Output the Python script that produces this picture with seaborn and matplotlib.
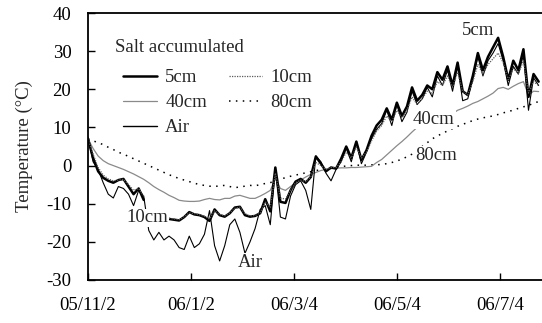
import matplotlib
matplotlib.use("Agg")
import matplotlib.pyplot as plt
from matplotlib.lines import Line2D
import numpy as np
import pandas as pd
import seaborn as sns

sns.set_style("ticks")
plt.rcParams["font.family"] = ["Liberation Serif", "DejaVu Serif"]
plt.rcParams["axes.unicode_minus"] = False

# Soil and air temperature, salt accumulated plot, sampled every 3 days from 2005-11-02
start_date = "2005-11-02"
step_days = 3

t_5cm = [7.0, 2.0, -1.5, -3.2, -4.0, -4.5, -3.8, -3.5, -5.5, -7.5,
         -6.0, -9.0, np.nan, np.nan, np.nan, np.nan, -14.0, -14.2, -14.4, -13.5,
         -12.2, -12.8, -13.0, -13.5, -14.5, -11.5, -13.0, -13.4, -12.5, -11.0,
         -10.8, -13.0, -13.4, -13.2, -12.5, -8.8, -12.0, -0.5, -9.5, -9.8,
         -6.5, -4.2, -3.5, -4.5, -3.0, 2.4, 0.5, -1.5, -0.5, -0.8,
         1.8, 5.0, 2.0, 6.3, 1.5, 4.0, 7.8, 10.5, 12.0, 15.0,
         12.0, 16.5, 13.0, 15.5, 20.5, 17.0, 18.5, 21.0, 20.0, 24.5,
         22.5, 26.0, 21.0, 27.0, 19.5, 18.5, 23.5, 29.5, 25.0, 28.5,
         31.0, 33.5, 28.5, 22.5, 27.5, 25.0, 30.5, 18.0, 24.0, 22.0]

t_10cm = [7.0, 3.0, -0.5, -2.5, -3.5, -4.0, -3.8, -3.6, -5.0, -6.5,
          -6.0, -8.0, np.nan, np.nan, np.nan, np.nan, -13.8, -14.0, -14.2, -13.4,
          -12.4, -12.6, -12.9, -13.3, -14.0, -11.8, -12.8, -13.2, -12.4, -11.2,
          -10.9, -12.6, -13.2, -13.1, -12.4, -9.5, -11.0, -2.0, -8.5, -8.8,
          -6.5, -4.5, -3.8, -4.2, -3.0, 0.8, 0.0, -1.0, -0.5, -0.5,
          1.0, 3.5, 2.0, 4.8, 2.0, 3.5, 6.5, 9.0, 10.5, 13.0,
          11.5, 14.5, 12.5, 14.5, 18.0, 16.0, 17.5, 19.5, 19.0, 22.0,
          21.0, 23.5, 20.5, 24.5, 19.5, 18.5, 22.0, 26.5, 24.0, 26.5,
          28.0, 29.5, 27.0, 22.5, 25.5, 24.0, 27.5, 19.0, 22.0, 21.0]

t_40cm = [7.0, 4.5, 2.5, 1.3, 0.5, 0.0, -0.5, -1.0, -1.6, -2.2,
          -2.9, -3.6, -4.5, -5.5, -6.3, -7.0, -7.8, -8.4, -9.1, -9.3,
          -9.4, -9.4, -9.3, -8.9, -8.6, -8.9, -9.0, -8.6, -8.6, -8.0,
          -7.8, -8.2, -8.6, -8.6, -8.0, -7.3, -6.5, -3.5, -6.0, -6.5,
          -5.5, -4.5, -3.8, -3.0, -2.3, -1.8, -1.3, -1.0, -0.8, -0.7,
          -0.6, -0.6, -0.5, -0.5, -0.4, -0.3, -0.2, 0.8, 1.6, 2.8,
          4.0, 5.2, 6.3, 7.5, 8.8, 10.0, 11.0, 11.8, 12.2, 12.6,
          12.9, 13.3, 13.6, 14.5, 15.0, 15.6, 16.3, 16.8, 17.5, 18.2,
          19.0, 20.2, 20.5, 20.0, 20.8, 21.5, 22.0, 18.5, 19.5, 19.4]

t_80cm = [7.0, 6.5, 6.0, 5.5, 4.8, 4.2, 3.5, 3.0, 2.4, 1.8,
          1.2, 0.6, 0.0, -0.6, -1.2, -1.8, -2.4, -2.9, -3.4, -3.8,
          -4.2, -4.6, -5.0, -5.2, -5.4, -5.5, -5.3, -5.2, -5.5, -5.8,
          -5.6, -5.4, -5.2, -5.3, -5.0, -4.7, -4.5, -3.8, -3.5, -3.2,
          -2.8, -2.5, -2.2, -1.9, -1.6, -1.3, -1.1, -0.9, -0.7, -0.5,
          -0.3, -0.1, 0.0, 0.1, 0.1, 0.1, 0.2, 0.2, 0.3, 0.5,
          0.8, 1.2, 1.7, 2.3, 3.0, 4.0, 5.0, 6.0, 7.0, 7.8,
          8.4, 9.1, 9.7, 10.3, 10.8, 11.3, 11.8, 12.2, 12.5, 12.8,
          13.0, 13.4, 13.8, 14.2, 14.5, 15.0, 15.4, 15.8, 16.3, 16.8]

t_air = [7.5, 1.0, -1.0, -4.5, -7.5, -8.5, -5.5, -6.0, -7.5, -10.5,
         -6.5, -8.0, -17.0, -19.5, -17.5, -19.5, -18.5, -19.5, -21.5, -22.0,
         -18.5, -21.5, -20.5, -18.0, -11.8, -21.0, -25.0, -21.0, -15.5, -14.0,
         -17.5, -23.0, -20.0, -16.5, -11.5, -10.5, -15.5, -0.8, -13.5, -14.0,
         -8.0, -5.0, -4.0, -6.5, -11.5, 2.5, 1.0, -2.0, -4.0, -1.0,
         1.0, 4.5, 1.0, 6.0, 0.5, 3.5, 7.0, 9.5, 11.0, 14.5,
         10.5, 16.0, 11.5, 14.0, 19.5, 16.0, 17.5, 20.5, 18.0, 23.5,
         21.0, 25.0, 19.5, 26.0, 17.0, 17.5, 22.5, 28.5, 23.5, 27.5,
         29.5, 32.0, 27.5, 21.0, 26.0, 24.0, 29.0, 14.5, 23.0, 21.0]

series_names = ["5cm", "10cm", "40cm", "80cm", "Air"]
tick_dates = ["2005-11-02", "2006-01-02", "2006-03-04", "2006-05-04", "2006-07-04"]
tick_labels = ["05/11/2", "06/1/2", "06/3/4", "06/5/4", "06/7/4"]
y_ticks = [-30, -20, -10, 0, 10, 20, 30, 40]

dates = pd.date_range(start_date, periods=len(t_5cm), freq=f"{step_days}D")
wide = pd.DataFrame({"date": dates, "5cm": t_5cm, "10cm": t_10cm,
                     "40cm": t_40cm, "80cm": t_80cm, "Air": t_air})
long = wide.melt(id_vars="date", var_name="depth", value_name="temp")
# missing records break a line into separate segments
long["seg"] = long.groupby("depth")["temp"].transform(lambda s: s.isna().cumsum())
long = long.dropna()

styles = {
    "80cm": dict(color="black", lw=1.1, ls=(0, (1, 3.5))),
    "40cm": dict(color="#8a8a8a", lw=0.9, ls="-"),
    "Air": dict(color="black", lw=0.8, ls="-"),
    "5cm": dict(color="black", lw=1.8, ls="-"),
    "10cm": dict(color="#5a5a5a", lw=0.9, ls=(0, (1, 1))),
}

W, H = 542, 323
fig = plt.figure(figsize=(W / 100, H / 100), dpi=100)
ax_l, ax_r, ax_t, ax_b = 88, 542, 13, 280
ax = fig.add_axes([ax_l / W, 1 - ax_b / H, (ax_r - ax_l) / W, (ax_b - ax_t) / H])

for name, st in styles.items():
    sub = long[long["depth"] == name]
    sns.lineplot(data=sub, x="date", y="temp", units="seg", estimator=None,
                 color=st["color"], linewidth=st["lw"], linestyle=st["ls"],
                 legend=False, ax=ax)

ax.set_xlim(pd.Timestamp("2005-11-02"), pd.Timestamp("2006-07-29"))
ax.set_ylim(-30, 40)
ax.set_xticks(pd.to_datetime(tick_dates))
ax.set_xticklabels(tick_labels)
ax.set_yticks(y_ticks)
ax.set_yticklabels([str(v) for v in y_ticks])
fs = 13.5
ax.tick_params(axis="both", direction="in", length=5, width=1, labelsize=fs,
               colors="black")
ax.tick_params(axis="x", pad=12)
ax.tick_params(axis="y", pad=12)
ax.set_xlabel("")
ax.set_ylabel("Temperature (°C)", fontsize=fs)
ax.yaxis.set_label_coords((33 - ax_l) / (ax_r - ax_l), 0.5)
for side in ["left", "bottom", "top"]:
    ax.spines[side].set_linewidth(1.3)
    ax.spines[side].set_color("black")
ax.spines["right"].set_visible(False)

def px(xp, yp):
    return ((xp - ax_l) / (ax_r - ax_l), (ax_b - yp) / (ax_b - ax_t))

# legend
ax.text(*px(115, 48), "Salt accumulated", transform=ax.transAxes,
        ha="left", va="center", fontsize=fs)
handles = []
for name in ["5cm", "40cm", "Air", "10cm", "80cm"]:
    st = styles[name]
    handles.append(Line2D([], [], color=st["color"], lw=st["lw"] if name != "Air" else 1.0,
                          ls=st["ls"], label=name))
ax.legend(handles=handles, ncol=2, frameon=False, loc="upper left",
          bbox_to_anchor=px(123, 69), borderpad=0, borderaxespad=0,
          handlelength=1.8, handletextpad=0.45, columnspacing=1.15,
          labelspacing=0.42, fontsize=fs)

# inline labels
label_pos = {
    "5cm": ("2006-06-21", 35.5),
    "40cm": ("2006-05-26", 12.1),
    "80cm": ("2006-05-27", 2.6),
    "10cm": ("2005-12-07", -13.7),
    "Air": ("2006-02-06", -25.3),
}
for name, (d, v) in label_pos.items():
    ax.text(pd.Timestamp(d), v, name, ha="center", va="center", fontsize=fs,
            bbox=dict(facecolor="white", edgecolor="none", pad=0.5))

fig.savefig("out.png", dpi=100)
